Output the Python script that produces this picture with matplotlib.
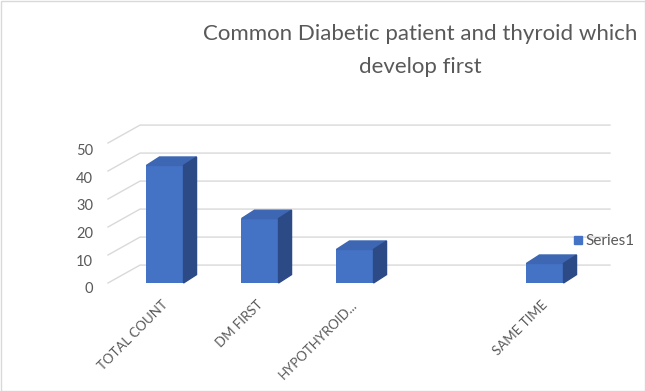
import numpy as np
import matplotlib
matplotlib.use("Agg")
import matplotlib.pyplot as plt
from matplotlib.patches import Polygon, Rectangle

plt.rcParams["font.family"] = ["Lato", "DejaVu Sans"]

categories = ["TOTAL COUNT", "DM FIRST", "HYPOTHYROID...", "", "SAME TIME"]
values = [42, 23, 12, np.nan, 7]
yticks = [0, 10, 20, 30, 40, 50]
series_name = "Series1"
title_lines = ["Common Diabetic patient and thyroid which", "develop first"]

W, H = 645, 391
PX_X, PX_Y = 95.0, 2.8          # pixels per category / per value unit
X0, Y0 = 165.0, 283.0           # pixel position of category 0 / value 0

fig = plt.figure(figsize=(W / 100, H / 100), dpi=100)
ax = fig.add_axes([0, 0, 1, 1])
ax.set_xlim(-X0 / PX_X, (W - X0) / PX_X)
ax.set_ylim((Y0 - H) / PX_Y, Y0 / PX_Y)
ax.axis("off")

def px(xp, yp):
    return (xp - X0) / PX_X, (Y0 - yp) / PX_Y

front_c = "#4472C4"
top_c = "#3D66B3"
side_c = "#2C4A86"
grid_c = "#D9D9D9"
text_c = "#595959"

# walls / gridlines (oblique projection)
wx0, wdx, wdy = -0.6, 0.337, 6.4
wx1 = (610 - X0) / PX_X
for v in yticks:
    ax.plot([wx0, wx0 + wdx, wx1], [v, v + wdy, v + wdy], color=grid_c, lw=1.0, zorder=1)
    ax.text(-0.758, v * 0.985 - 2.2, str(v), ha="right", va="center", fontsize=10.5, color=text_c)

# 3D-look columns
x = np.arange(len(categories))
bw, bdx, bdy = 0.39, 0.137, 3.0
ax.bar(x, values, width=bw, color=front_c, zorder=3)
for xi, v in zip(x, values):
    if np.isnan(v):
        continue
    l, r = xi - bw / 2, xi + bw / 2
    ax.add_patch(Polygon([(l, v), (r, v), (r + bdx, v + bdy), (l + bdx, v + bdy)],
                         closed=True, color=top_c, zorder=3))
    ax.add_patch(Polygon([(r, 0), (r, v), (r + bdx, v + bdy), (r + bdx, bdy)],
                         closed=True, color=side_c, zorder=3))

# category labels
for xi, lab in zip(x, categories):
    ax.text(xi - 0.04, -5.5, lab, rotation=45, rotation_mode="anchor",
            ha="right", va="top", fontsize=9.5, color=text_c)

# legend
lx, ly = px(574, 244)
ax.add_patch(Rectangle((lx, ly), 8 / PX_X, 8 / PX_Y, color=front_c, zorder=3))
tx, ty = px(585, 240.5)
ax.text(tx, ty, series_name, ha="left", va="center", fontsize=11, color=text_c)

# title
for line, yb in zip(title_lines, [40, 73]):
    tx, ty = px(420, yb)
    ax.text(tx, ty, line, ha="center", va="baseline", fontsize=16, color=text_c)

fig.add_artist(Rectangle((0.5 / W, 0.5 / H), 1 - 1 / W, 1 - 1 / H, transform=fig.transFigure,
                         fill=False, edgecolor=grid_c, lw=1))

fig.savefig("out.png", dpi=100)
